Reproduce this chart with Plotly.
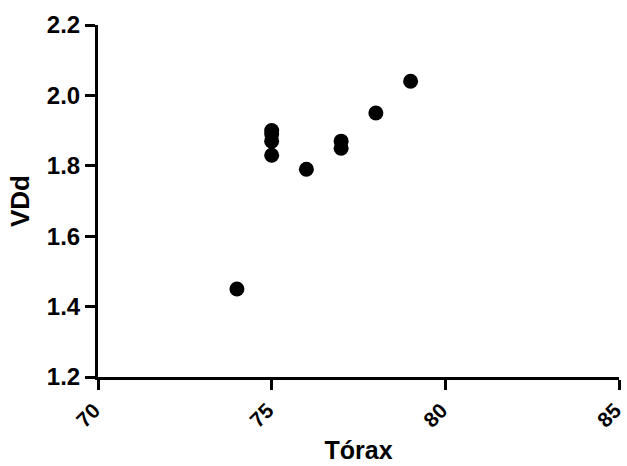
import plotly.graph_objects as go

torax = [74, 75, 75, 75, 75, 76, 77, 77, 78, 79]
vdd = [1.45, 1.90, 1.89, 1.87, 1.83, 1.79, 1.87, 1.85, 1.95, 2.04]

x_ticks = [70, 75, 80, 85]
y_ticks = [1.2, 1.4, 1.6, 1.8, 2.0, 2.2]
y_labels = ["1.2", "1.4", "1.6", "1.8", "2.0", "2.2"]

font_family = "Liberation Sans, Arial, sans-serif"

fig = go.Figure(go.Scatter(
    x=torax, y=vdd, mode="markers",
    marker=dict(color="black", size=15, line=dict(width=0)),
    hoverinfo="x+y",
))

fig.update_layout(
    width=627, height=466,
    margin=dict(l=98, r=8, t=25, b=89),
    paper_bgcolor="white", plot_bgcolor="white",
    showlegend=False,
    font=dict(family=font_family, color="black"),
)

fig.update_xaxes(
    range=[70, 85], tickvals=x_ticks, ticktext=[str(v) for v in x_ticks],
    showgrid=False, zeroline=False, automargin=False,
    showline=True, linecolor="black", linewidth=3,
    ticks="outside", ticklen=10, tickwidth=3, tickcolor="black",
    tickangle=-45, ticklabeloverflow="allow", ticklabelshift=-4,
    tickfont=dict(size=21, family=font_family, weight="bold", color="black"),
    title=dict(text="Tórax", font=dict(size=25, family=font_family, weight="bold", color="black"), standoff=12),
)

fig.update_yaxes(
    range=[1.2, 2.2], tickvals=y_ticks, ticktext=y_labels,
    showgrid=False, zeroline=False, automargin=False,
    showline=True, linecolor="black", linewidth=3,
    ticks="outside", ticklen=10, tickwidth=3, tickcolor="black",
    tickfont=dict(size=24, family=font_family, weight="bold", color="black"),
    title=dict(text="VDd", font=dict(size=26, family=font_family, weight="bold", color="black"), standoff=10),
)

fig.write_html("out.html")
